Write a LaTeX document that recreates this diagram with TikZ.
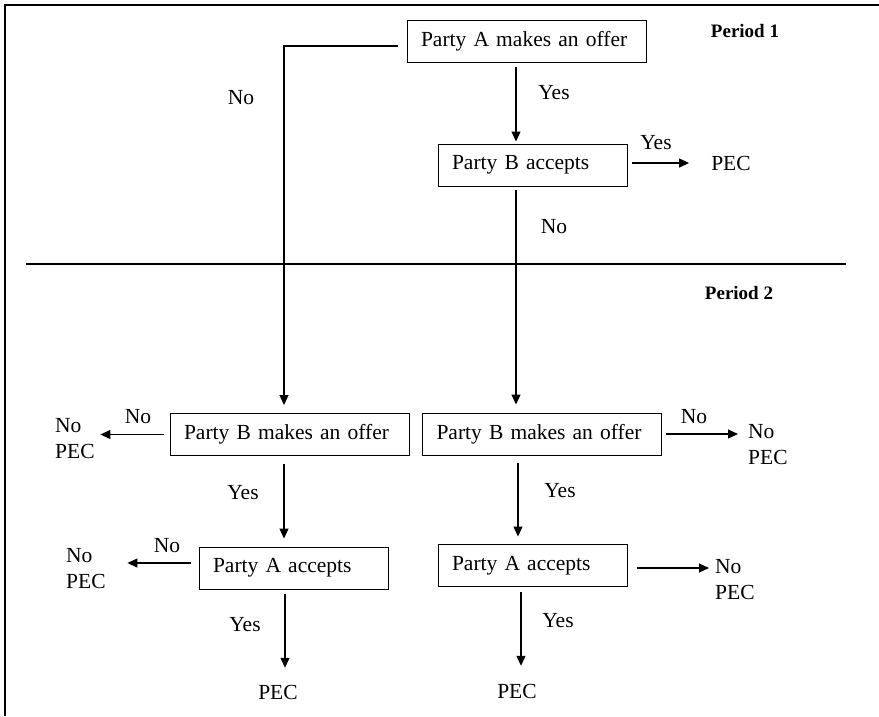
\documentclass[tikz,border=0pt]{standalone}
\usepackage{fontspec}
\setmainfont{Liberation Serif}
\usetikzlibrary{arrows.meta}
\tikzset{
  stepbox/.style={draw, line width=1pt, inner xsep=14pt, align=left, minimum height=42pt, font=\fontsize{21.5}{26}\selectfont},
  wide/.style={text width=211pt},
  narrow/.style={text width=161pt},
  lbl/.style={inner sep=0pt, align=left, font=\fontsize{21.5}{26}\selectfont},
  per/.style={inner sep=0pt, font=\fontsize{19}{23}\selectfont\bfseries},
  arr/.style={-{Triangle[length=10pt,width=9pt]}, line width=1.2pt},
}
\begin{document}
\begin{tikzpicture}[x=1pt,y=-1pt]
  \useasboundingbox (0,0) rectangle (879,716);
  % frame and period line
  \draw[line width=1.5pt] (5,716) -- (5,5) -- (879,5);
  \draw[line width=1.2pt] (26,264) -- (846,264);
  \node[per] (per1) at (745,31) {Period 1};
  \node[per] (per2) at (739,293) {Period 2};

  % boxes
  \node[stepbox,wide] (offerA) at (526.5,41) {Party A makes an offer};
  \node[stepbox,narrow] (acceptB) at (532.5,165) {Party B accepts};
  \node[stepbox,wide] (offerBL) at (289.5,434.5) {Party B makes an offer};
  \node[stepbox,wide] (offerBR) at (542,434) {Party B makes an offer};
  \node[stepbox,narrow] (acceptAL) at (293.5,568) {Party A accepts};
  \node[stepbox,narrow] (acceptAR) at (532.5,565.5) {Party A accepts};

  % outcomes
  \node[lbl] (pecTop) at (731,163) {PEC};
  \node[lbl,anchor=west] (noPECa) at (55,439) {No\\PEC};
  \node[lbl,anchor=west] (noPECb) at (66,569) {No\\PEC};
  \node[lbl,anchor=west] (noPECc) at (748,445) {No\\PEC};
  \node[lbl,anchor=west] (noPECd) at (715,579.5) {No\\PEC};
  \node[lbl] (pecL) at (278,692) {PEC};
  \node[lbl] (pecR) at (517,691) {PEC};

  % answers
  \node[lbl] (no1) at (241,98) {No};
  \node[lbl] (yes1) at (554,93) {Yes};
  \node[lbl] (yes2) at (656,143) {Yes};
  \node[lbl] (no2) at (554,227) {No};
  \node[lbl] (no3) at (138,417) {No};
  \node[lbl] (yes3) at (243,493) {Yes};
  \node[lbl] (no4) at (167,546) {No};
  \node[lbl] (yes4) at (245,625) {Yes};
  \node[lbl] (no5) at (694,417) {No};
  \node[lbl] (yes5) at (560,491) {Yes};
  \node[lbl] (yes6) at (558,621) {Yes};

  % period 1
  \draw[arr, shorten <=9pt, shorten >=8pt] ([yshift=-5pt]offerA.west) -| ([xshift=-5.5pt]offerBL.north);
  \draw[arr, shorten <=4pt, shorten >=2pt] ([xshift=-10.5pt]offerA.south) -- ([xshift=-16.5pt]acceptB.north);
  \draw[arr, shorten <=4pt, shorten >=22pt] ([yshift=2pt]acceptB.east) -- (pecTop.west);
  \draw[arr, shorten <=3pt, shorten >=8pt] ([xshift=-16.5pt]acceptB.south) -- ([xshift=-26pt]offerBR.north);

  % period 2, left
  \draw[arr, shorten <=6pt, shorten >=5.6pt] (offerBL.west) -- (offerBL.west -| noPECa.east);
  \draw[arr, shorten <=8pt, shorten >=8pt] ([xshift=-5.5pt]offerBL.south) -- ([xshift=-9.5pt]acceptAL.north);
  \draw[arr, shorten <=8pt, shorten >=21.6pt] ([yshift=5pt]acceptAL.west) -- ([yshift=5pt]acceptAL.west -| noPECb.east);
  \draw[arr, shorten <=4pt, shorten >=16.8pt] ([xshift=-8.5pt]acceptAL.south) -- ([xshift=7pt]pecL.north);

  % period 2, right
  \draw[arr, shorten <=4pt, shorten >=10pt] (offerBR.east) -- (offerBR.east -| noPECc.west);
  \draw[arr, shorten <=7pt, shorten >=7.5pt] ([xshift=-24pt]offerBR.south) -- ([xshift=-14.5pt]acceptAR.north);
  \draw[arr, shorten <=9pt, shorten >=6pt] ([yshift=-2.5pt]acceptAR.east) -- ([yshift=-2.5pt]acceptAR.east -| noPECd.west);
  \draw[arr, shorten <=4.5pt, shorten >=17.8pt] ([xshift=-11.5pt]acceptAR.south) -- ([xshift=4pt]pecR.north);
\end{tikzpicture}
\end{document}
